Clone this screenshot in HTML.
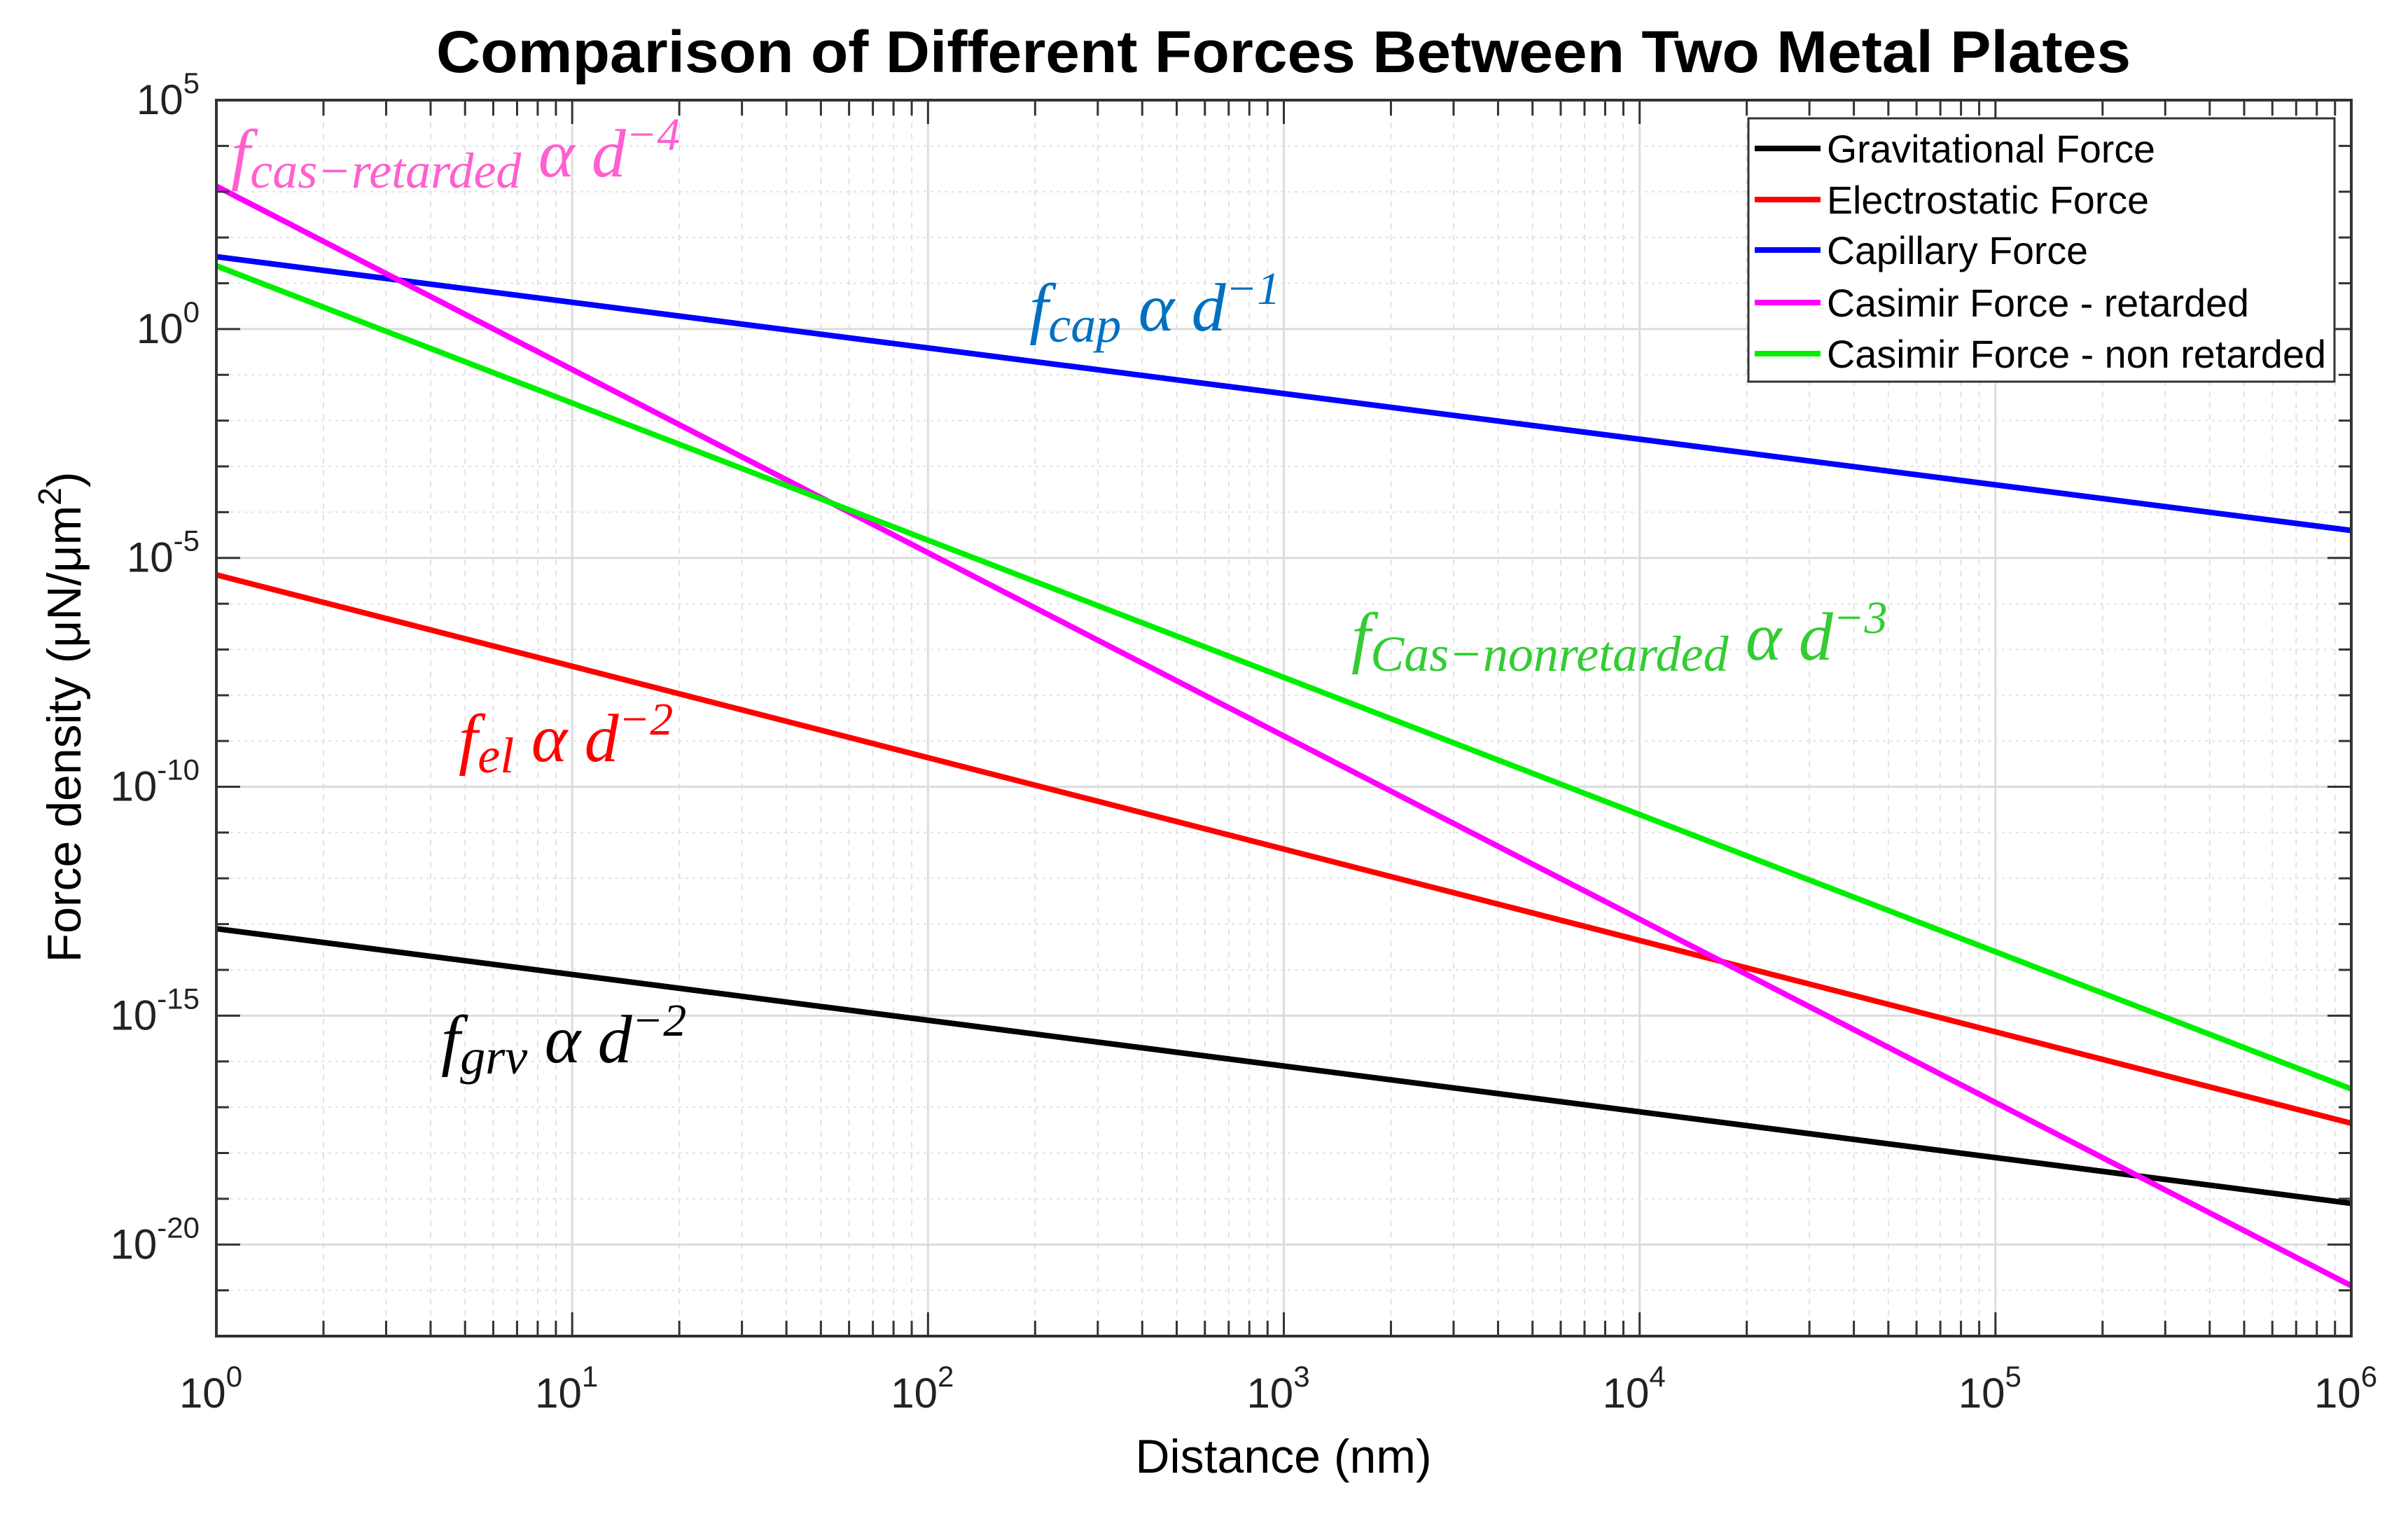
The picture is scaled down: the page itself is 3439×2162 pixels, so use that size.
<!DOCTYPE html>
<html><head><meta charset="utf-8"><style>
html,body{margin:0;padding:0;background:#fff;}
svg{display:block;}
text{font-family:"Liberation Sans",sans-serif;}
.ann text,.ann tspan{font-family:"Liberation Serif","DejaVu Serif",serif;font-style:italic;}
</style></head><body>
<svg id="chart" width="3439" height="2162" viewBox="0 0 3439 2162" xmlns="http://www.w3.org/2000/svg">
<text x="1833" y="103" font-size="84" font-weight="bold" text-anchor="middle" textLength="2420" lengthAdjust="spacingAndGlyphs">Comparison of Different Forces Between Two Metal Plates</text>
<g id="grid"></g>
<g id="series"></g>
<g id="axes"></g>
<text x="1833" y="2103" font-size="68" text-anchor="middle">Distance (nm)</text>
<text transform="translate(115,1024) rotate(-90)" font-size="68" text-anchor="middle">Force density (μN/μm<tspan dy="-28" font-size="46">2</tspan><tspan dy="28">)</tspan></text>
<g fill="#ff5fd0" class="ann"><text x="330" y="252" font-size="98">f<tspan font-size="72" dy="16">cas−retarded</tspan><tspan dy="-16"> α d</tspan><tspan font-size="66" dy="-38">−4</tspan></text></g>
<g fill="#0070c0" class="ann"><text x="1470" y="472" font-size="98">f<tspan font-size="72" dy="16">cap</tspan><tspan dy="-16"> α d</tspan><tspan font-size="66" dy="-38">−1</tspan></text></g>
<g fill="#33cc33" class="ann"><text x="1930" y="942" font-size="98">f<tspan font-size="72" dy="16">Cas−nonretarded</tspan><tspan dy="-16"> α d</tspan><tspan font-size="66" dy="-38">−3</tspan></text></g>
<g fill="#ff0000" class="ann"><text x="655" y="1087" font-size="98">f<tspan font-size="72" dy="16">el</tspan><tspan dy="-16"> α d</tspan><tspan font-size="66" dy="-38">−2</tspan></text></g>
<g fill="#000" class="ann"><text x="630" y="1517" font-size="98">f<tspan font-size="72" dy="16">grv</tspan><tspan dy="-16"> α d</tspan><tspan font-size="66" dy="-38">−2</tspan></text></g>
<g id="legend"></g>
</svg>
<script>
const distances=[1,1e6];
const seriesNames=["Gravitational Force","Electrostatic Force","Capillary Force","Casimir Force - retarded","Casimir Force - non retarded"];
const seriesColors=["#000000","#ff0000","#0000ff","#ff00ff","#00ee00"];
const gravLog=[-13.1,-19.1];
const elecLog=[-5.37,-17.35];
const capLog=[1.58,-4.4];
const casRetLog=[3.12,-20.9];
const casNonLog=[1.38,-16.6];
const xTickExp=[0,1,2,3,4,5,6];
const yTickExp=[5,0,-5,-10,-15,-20];

const NS="http://www.w3.org/2000/svg";
const L=309,R=3358,T=143,B=1908;
const xMin=0,xMax=6,yMin=-22,yMax=5;
function xs(v){return L+(Math.log10(v)-xMin)/(xMax-xMin)*(R-L);}
function ysLog(lv){return B-(lv-yMin)/(yMax-yMin)*(B-T);}
function mk(tag,attrs,parent){const e=document.createElementNS(NS,tag);for(const k in attrs)e.setAttribute(k,attrs[k]);parent.appendChild(e);return e;}
const grid=document.getElementById('grid'),axes=document.getElementById('axes'),series=document.getElementById('series'),legend=document.getElementById('legend');

mk('rect',{x:L,y:T,width:R-L,height:B-T,fill:'#fff'},grid);
for(let e=xMin;e<=xMax;e++){
  for(let m=1;m<=9;m++){
    if(e==xMax&&m>1)break;
    const x=xs(m*Math.pow(10,e));
    const major=m==1;
    const g=mk('line',{x1:x,x2:x,y1:T,y2:B,stroke:major?'#dcdcdc':'#e2e2e2','stroke-width':major?3:2,'stroke-dasharray':major?'':'8 8'},grid);
    
    
    const tl=major?34:22;
    mk('line',{x1:x,x2:x,y1:B,y2:B-tl,stroke:'#333','stroke-width':3},axes);
    mk('line',{x1:x,x2:x,y1:T,y2:T+tl,stroke:'#333','stroke-width':3},axes);
  }
}
for(let e=yMin;e<=yMax;e++){
  const y=ysLog(e);
  const major=yTickExp.includes(e);
  const g=mk('line',{x1:L,x2:R,y1:y,y2:y,stroke:major?'#dcdcdc':'#e2e2e2','stroke-width':major?3:2,'stroke-dasharray':major?'':'4 6'},grid);
  
  
  const tl=major?34:18;
  mk('line',{x1:L,x2:L+tl,y1:y,y2:y,stroke:'#333','stroke-width':3},axes);
  mk('line',{x1:R,x2:R-tl,y1:y,y2:y,stroke:'#333','stroke-width':3},axes);
}
const frame=mk('rect',{x:L,y:T,width:R-L,height:B-T,fill:'none',stroke:'#333','stroke-width':4},axes);


xTickExp.forEach(e=>{
  const t=mk('text',{x:xs(Math.pow(10,e))-8,y:2010,'font-size':60,'text-anchor':'middle',fill:'#222'},axes);
  
  
  t.innerHTML='10<tspan font-size="42" dy="-30">'+e+'</tspan>';
});
yTickExp.forEach(e=>{
  const t=mk('text',{x:285,y:ysLog(e)+20,'font-size':60,'text-anchor':'end',fill:'#222'},axes);
  
  
  t.innerHTML='10<tspan font-size="42" dy="-30">'+e+'</tspan>';
});
const allSeries=[gravLog,elecLog,capLog,casRetLog,casNonLog];
const ids=['gravitational-line','electrostatic-line','capillary-line','casimir-retarded-line','casimir-nonretarded-line'];
allSeries.forEach((vals,i)=>{
  const pts=distances.map((d,j)=>xs(d)+','+ysLog(vals[j])).join(' ');
  const p=mk('polyline',{points:pts,fill:'none',stroke:seriesColors[i],'stroke-width':8},series);
  
  
});
const lb=mk('rect',{x:2497,y:169,width:837,height:376,fill:'#fff',stroke:'#333','stroke-width':3},legend);


const ly=[212,285,357,432,505];
seriesNames.forEach((n,i)=>{
  const g=mk('g',{},legend);
  
  
  mk('line',{x1:2506,x2:2600,y1:ly[i],y2:ly[i],stroke:seriesColors[i],'stroke-width':8},g);
  const t=mk('text',{x:2609,y:ly[i]+20,'font-size':56,fill:'#000'},g);
  t.textContent=n;
  const w=[469,460,373,603,713][i];
  t.setAttribute('textLength',w);
  t.setAttribute('lengthAdjust','spacingAndGlyphs');
});
</script>
</body></html>
